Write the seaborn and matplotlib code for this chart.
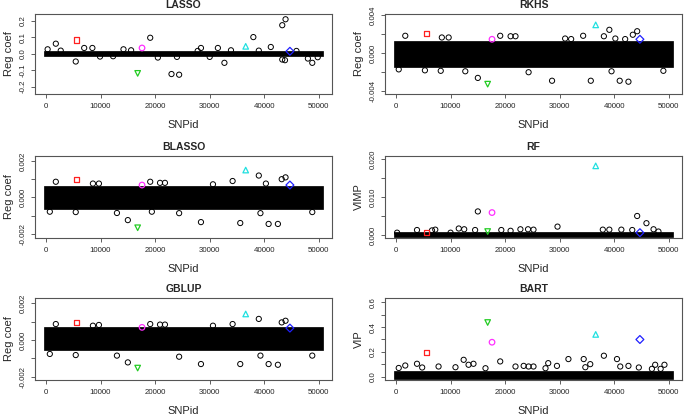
import matplotlib
matplotlib.use("Agg")
import matplotlib.pyplot as plt
import seaborn as sns
import numpy as np
import pandas as pd

sns.set_style("white")
plt.rcParams['font.family'] = ['Liberation Sans', 'DejaVu Sans']

# ---------------- data ----------------
panels = ["LASSO", "RKHS", "BLASSO", "RF", "GBLUP", "BART"]
ylabels = ["Reg coef", "Reg coef", "Reg coef", "VIMP", "Reg coef", "VIP"]

# QTL SNP positions and their markers/colours
qtl_x = [5600, 16800, 17600, 36600, 44700]
qtl_names = ["red", "green", "magenta", "cyan", "blue"]

# QTL values per method (order as qtl_x)
qtl_lasso = [0.084, -0.120, 0.034, 0.044, 0.014]
qtl_rkhs = [0.00207, -0.00326, 0.00148, 0.00300, 0.00148]
qtl_blasso = [0.00099, -0.00166, 0.00068, 0.00150, 0.00068]
qtl_rf = [0.0006, 0.0009, 0.0059, 0.0182, 0.0006]
qtl_gblup = [0.00096, -0.00153, 0.00069, 0.00142, 0.00065]
qtl_bart = [0.196, 0.437, 0.278, 0.341, 0.300]

# dense band of the bulk of SNPs (extent of point centres)
band_x = [1, 50400]
band_lasso = (-0.004, 0.004)
band_rkhs = (-0.0012, 0.00113)
band_blasso = (-0.00053, 0.0005)
band_rf = (0.0, 0.00015)
band_gblup = (-0.00045, 0.00059)
band_bart = (0.0, 0.032)

# individual SNPs standing out of the band
out_lasso_x = [300, 1800, 7000, 8500, 5450, 14200, 19100, 23000, 24400, 28400, 31500, 32700,
               38000, 41200, 43300, 43900, 43300, 43800, 45900, 48800,
               2700, 9900, 20500, 24000, 27800, 33900, 39000, 48000, 49800, 12300, 15600, 30000]
out_lasso_y = [0.026, 0.060, 0.034, 0.034, -0.048, 0.026, 0.096, -0.124, -0.128, 0.034, 0.034, -0.056,
               0.100, 0.040, 0.172, 0.208, -0.036, -0.040, 0.016, -0.056,
               0.018, -0.018, -0.024, -0.020, 0.016, 0.020, 0.018, -0.030, -0.022, -0.016, 0.020, -0.020]

out_rkhs_x = [1700, 8400, 9650, 19100, 21000, 21900, 31000, 32100, 34300, 38100, 39100, 40200, 43400,
              44200, 42000, 15000, 24300, 28600, 35700, 39500, 41000, 42600, 8200, 12700, 49000, 5300, 500]
out_rkhs_y = [0.00185, 0.00167, 0.00167, 0.00185, 0.0018, 0.0018, 0.00156, 0.0015, 0.00185, 0.0018,
              0.00248, 0.00156, 0.00196, 0.00233, 0.0015, -0.0026, -0.0020, -0.0029, -0.0029, -0.0019,
              -0.0029, -0.0030, -0.00185, -0.0019, -0.00185, -0.0018, -0.0017]

out_blasso_x = [1800, 8600, 9700, 19100, 20900, 21800, 30600, 34200, 39000, 40300, 43200, 43900,
                15000, 24400, 28400, 35600, 39300, 40800, 42500, 13000, 5450, 700, 48800, 19400]
out_blasso_y = [0.00086, 0.00076, 0.00076, 0.00086, 0.0008, 0.0008, 0.00072, 0.0009, 0.0012, 0.00076,
                0.0010, 0.0011, -0.00124, -0.00086, -0.00135, -0.0014, -0.00086, -0.00145, -0.00145,
                -0.00085, -0.0008, -0.00078, -0.0008, -0.00078]

out_rf_x = [15000, 44200, 45900, 29600, 47200, 11500, 12500, 7200, 3850, 19300, 22800, 24200, 25200,
            37900, 39100, 41300, 43300, 48100, 14500, 200, 10000, 21000, 6600]
out_rf_y = [0.0062, 0.0050, 0.0031, 0.0022, 0.0015, 0.0017, 0.0015, 0.0014, 0.0013, 0.0013, 0.0015,
            0.0015, 0.0014, 0.0014, 0.0014, 0.0014, 0.0013, 0.0009, 0.0013, 0.0006, 0.0006, 0.0011,
            0.0012]

out_gblup_x = [1800, 9700, 19100, 20900, 21800, 34200, 39000, 43200, 43900, 30600,
               15000, 24400, 28400, 35600, 39300, 40800, 42500, 13000, 5450, 700, 48800, 8600]
out_gblup_y = [0.00087, 0.00082, 0.00087, 0.00084, 0.00084, 0.00087, 0.00115, 0.00096, 0.00105,
               0.00078, -0.00122, -0.00091, -0.00131, -0.00131, -0.00085, -0.00131, -0.00135,
               -0.00085, -0.00082, -0.00076, -0.00085, 0.00078]

out_bart_x = [500, 1700, 3850, 4800, 7800, 12400, 13300, 14200, 19100, 21900, 23400, 24300, 25200,
              27900, 29500, 31600, 34400, 35600, 38100, 40500, 41100, 42600, 47500, 49200, 10900,
              16400, 27400, 34700, 44500, 46900, 48500]
out_bart_y = [0.070, 0.090, 0.104, 0.074, 0.082, 0.136, 0.096, 0.104, 0.123, 0.082, 0.087, 0.082,
              0.082, 0.109, 0.087, 0.142, 0.142, 0.101, 0.169, 0.142, 0.082, 0.087, 0.096, 0.096,
              0.076, 0.068, 0.068, 0.076, 0.074, 0.063, 0.063]

ylims = [(-0.245, 0.24), (-0.00430, 0.00415), (-0.00222, 0.00227),
         (-0.0008, 0.0208), (-0.00218, 0.00229), (-0.027, 0.635)]
yticks = [[-0.2, -0.1, 0.0, 0.1, 0.2],
          [-0.004, -0.002, 0.0, 0.002, 0.004],
          [-0.002, -0.001, 0.0, 0.001, 0.002],
          [0.0, 0.005, 0.010, 0.015, 0.020],
          [-0.002, -0.001, 0.0, 0.001, 0.002],
          [0.0, 0.1, 0.2, 0.3, 0.4, 0.5, 0.6]]
yticklabels = [["-0.2", "-0.1", "0.0", "0.1", "0.2"],
               ["-0.004", "", "0.000", "", "0.004"],
               ["-0.002", "", "0.000", "", "0.002"],
               ["0.000", "", "0.010", "", "0.020"],
               ["-0.002", "", "0.000", "", "0.002"],
               ["0.0", "", "0.2", "", "0.4", "", "0.6"]]
xticks = [0, 10000, 20000, 30000, 40000, 50000]
xticklabels = ["0", "10000", "20000", "30000", "40000", "50000"]

qtl_vals = [qtl_lasso, qtl_rkhs, qtl_blasso, qtl_rf, qtl_gblup, qtl_bart]
bands = [band_lasso, band_rkhs, band_blasso, band_rf, band_gblup, band_bart]
outs = [(out_lasso_x, out_lasso_y), (out_rkhs_x, out_rkhs_y), (out_blasso_x, out_blasso_y),
        (out_rf_x, out_rf_y), (out_gblup_x, out_gblup_y), (out_bart_x, out_bart_y)]

qtl_marker = {"red": "s", "green": "v", "magenta": "o", "cyan": "^", "blue": "D"}
qtl_color = {"red": "#FF2020", "green": "#22CC22", "magenta": "#FF30FF", "cyan": "#20E0E0", "blue": "#2020FF"}

# ---------------- layout ----------------
W, H = 685, 415
fig = plt.figure(figsize=(W / 100, H / 100), dpi=100)
lefts = [35, 385]
width = 297
rows = [(14, 94), (156, 238), (298, 380)]

for i, name in enumerate(panels):
    r, c = divmod(i, 2)
    top, bot = rows[r]
    l = lefts[c]
    ax = fig.add_axes([l / W, 1 - bot / H, width / W, (bot - top) / H])

    lo, hi = bands[i]
    pc = ax.fill_between(band_x, [lo, lo], [hi, hi], facecolor="black", edgecolor="black",
                         linewidth=3.4, zorder=2)
    pc.set_joinstyle("miter")

    ox, oy = outs[i]
    sns.scatterplot(x=ox, y=oy, marker="o", s=14, facecolors="none", edgecolor="black",
                    linewidth=0.7, ax=ax, zorder=3)

    df = pd.DataFrame({"x": qtl_x, "y": qtl_vals[i], "q": qtl_names})
    for _, row in df.iterrows():
        sns.scatterplot(x=[row["x"]], y=[row["y"]], marker=qtl_marker[row["q"]], s=16,
                        facecolors="none", edgecolor=qtl_color[row["q"]], linewidth=0.9,
                        ax=ax, zorder=4)

    ax.set_xlim(-2015, 52416)
    ax.set_ylim(*ylims[i])
    ax.set_xticks(xticks)
    ax.set_xticklabels(xticklabels, fontsize=5.7)
    ax.set_yticks(yticks[i])
    ax.set_yticklabels(yticklabels[i], fontsize=5.7, rotation=90, va="center")
    ax.tick_params(axis="both", length=3, width=0.6, color="#444444", pad=3.2,
                   bottom=True, left=True)
    for sp in ax.spines.values():
        sp.set_color("#555555")
        sp.set_linewidth(0.8)
    ax.set_title(name, fontsize=7.5, fontweight="bold", pad=4)
    ax.set_xlabel("SNPid", fontsize=8, labelpad=7.5)
    ax.set_ylabel(ylabels[i], fontsize=8, labelpad=4)
    ax.grid(False)

fig.savefig("out.png", dpi=100)
